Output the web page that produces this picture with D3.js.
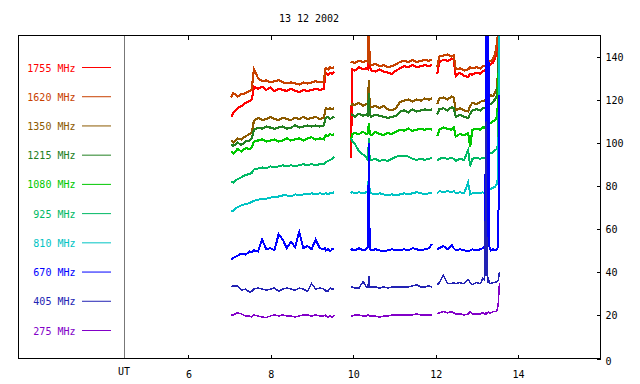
<!DOCTYPE html>
<html>
<head>
<meta charset="utf-8">
<script src="https://cdn.jsdelivr.net/npm/d3@7"></script>
<style>
body { margin: 0; background: #fff; }
svg { display: block; font-family: "DejaVu Sans Mono", monospace; font-size: 10px; }
</style>
</head>
<body>
<svg id="chart" width="640" height="384"></svg>
<script>
var title = "13 12 2002";
var freqLabels = ["1755 MHz", "1620 MHz", "1350 MHz", "1215 MHz", "1080 MHz", "925 MHz", "810 MHz", "670 MHz", "405 MHz", "275 MHz"];
var hourTicks = [6, 8, 10, 12, 14];
var fluxTicks = [0, 20, 40, 60, 80, 100, 120, 140];
var utHour = 4.45;

// UT hours of the three observing runs
var t1 = [7.05, 7.1, 7.2, 7.3, 7.4, 7.5, 7.55, 7.6, 7.7, 7.8, 7.9, 8.0, 8.1, 8.2, 8.3, 8.4, 8.5, 8.6, 8.7, 8.8, 8.9, 9.0, 9.1, 9.2, 9.3, 9.33, 9.35, 9.4, 9.45, 9.5, 9.55];
var t2 = [9.96, 9.98, 10.05, 10.15, 10.25, 10.33, 10.37, 10.39, 10.41, 10.45, 10.55, 10.65, 10.75, 10.85, 10.95, 11.05, 11.15, 11.25, 11.35, 11.45, 11.55, 11.65, 11.75, 11.85, 11.92];
var t3 = [12.05, 12.1, 12.2, 12.3, 12.4, 12.45, 12.5, 12.6, 12.7, 12.8, 12.85, 12.9, 13.0, 13.1, 13.15, 13.2, 13.22, 13.23, 13.24, 13.25, 13.26, 13.27, 13.28, 13.29, 13.31, 13.35, 13.4, 13.45, 13.5, 13.53, 13.56];
var segTimes = [t1, t2, t3];

var flux1755 = [
	[112, 114, 116, 117, 118.5, 119.5, 120, 126, 125, 126, 124.5, 125.5, 124, 125, 124.5, 124, 125, 124, 123.5, 124.5, 124, 124.5, 125, 124.5, 125, 132, 132.5, 131.5, 132.5, 132, 133],
	[93, 134, 133.5, 135, 134, 134.5, 134, 148, 135, 133.5, 133, 134, 133, 132.5, 132, 133.5, 134.5, 135.5, 135, 136, 135, 135.5, 136, 135.5, 136],
	[132, 137.5, 138.5, 138, 139, 138.5, 131, 132.5, 131, 130.5, 132, 131.5, 132.5, 132, 133, 133.5, 134, 134, 134.5, 134, 134.5, 135, 135, 135.5, 136, 136.5, 137, 139, 143, 147, 160]];
var flux1620 = [
	[121, 123, 121.5, 122.5, 123, 124, 125, 134, 130, 128.5, 129, 128, 128.5, 129, 128, 127.5, 128, 127.5, 127, 128, 127.5, 128, 128.5, 128, 128, 134, 134.5, 134, 135, 134.5, 135],
	[137, 137.5, 137, 138, 137.5, 138, 137.5, 155, 137, 136, 136.5, 135.5, 136, 135, 135.5, 136.5, 137.5, 138, 137.5, 138.5, 137.5, 138, 138.5, 138, 138.5],
	[135, 140, 140.5, 141, 140, 140.5, 134, 134.5, 133.5, 134, 135, 134.5, 135, 134.5, 135.5, 135.5, 136, 136, 136.5, 136, 136.5, 136.5, 137, 137, 137.5, 138, 139, 141, 146, 152, 160]];
var flux1350 = [
	[101, 100, 102, 101.5, 103, 104, 105, 110, 111.5, 110.5, 111, 112, 111, 110.5, 111.5, 111, 110.5, 111.5, 111, 112, 111, 111.5, 112, 111, 111.5, 115, 116, 115.5, 116, 115.5, 116],
	[117, 118, 117.5, 118.5, 117, 118, 117.5, 129, 117, 116.5, 117, 116, 117, 115.5, 115, 116, 119, 119.5, 120, 119, 120, 119.5, 120.5, 120, 120.5],
	[118, 120.5, 121, 120, 121.5, 121, 115, 116, 115, 114.5, 117, 118.5, 118, 119, 119.5, 119.5, 120, 120, 120.5, 120, 120.5, 121, 121, 121.5, 121, 122, 121.5, 123, 125, 135, 160]];
var flux1215 = [
	[99, 98.5, 100, 99, 100.5, 101, 102, 106, 107, 106.5, 107.5, 107, 106.5, 107, 107.5, 106.5, 107, 108, 107, 107.5, 108, 107.5, 108, 107.5, 108, 111, 111.5, 112, 111, 111.5, 112],
	[112.5, 113, 112, 113.5, 112.5, 113, 112.5, 123, 113, 112, 113, 112.5, 112, 111.5, 112, 112.5, 114.5, 115, 114, 115.5, 114.5, 115, 115.5, 115, 115.5],
	[113, 115.5, 116, 115, 116.5, 116, 112, 113, 112, 111.5, 113.5, 115, 115.5, 115, 116, 116, 116.5, 116, 117, 116.5, 117, 117, 117.5, 117.5, 118, 118, 119, 120, 122, 130, 160]];
var flux1080 = [
	[96, 95, 97, 96, 97.5, 97, 98, 100.5, 101, 101.5, 100.5, 101, 101.5, 100.5, 101, 102, 101, 101.5, 102, 101, 102, 102.5, 101.5, 102, 101.5, 103, 103.5, 103, 104, 103.5, 104],
	[101, 104, 104.5, 104, 105, 104, 104.5, 109, 104.5, 103.5, 105, 104, 103.5, 104.5, 104, 105, 106, 105.5, 106.5, 105.5, 106, 106.5, 106, 106.5, 106],
	[103, 106, 107, 106.5, 106, 107, 103, 104, 103.5, 104.5, 98, 106, 106.5, 106, 107, 107, 107, 107.5, 107.5, 108, 108, 108, 108.5, 108.5, 109, 109, 110, 110.5, 112, 120, 160]];
var flux925 = [
	[82, 81.5, 83, 84, 85, 85.5, 86, 87.5, 88, 88.5, 88, 89, 88.5, 89, 89.5, 89, 89.5, 89, 89.5, 90, 89.5, 90, 89.5, 90, 90, 90.5, 91, 91.5, 92, 92.5, 93.5],
	[102, 101, 99.5, 96, 94.5, 93, 92, 102, 92.5, 92, 92.5, 91.5, 92, 91.5, 92.5, 93.5, 94, 94, 93.5, 92.5, 92, 92.5, 92, 92.5, 93],
	[91.5, 92.5, 93, 92.5, 93, 92.5, 91.5, 92.5, 92, 96.5, 89, 92.5, 93, 92.5, 93, 93, 93, 93.5, 93.5, 94, 94, 94, 94.5, 94.5, 95, 95, 95.5, 96.5, 97, 100, 160]];
var flux810 = [
	[68, 68.5, 70, 71, 71.5, 72, 72.5, 73, 73.5, 74, 74, 74.5, 75, 75, 75.5, 75.5, 75, 76, 75.5, 76, 76, 76.5, 76, 76.5, 76, 76.5, 76.5, 76, 76.5, 76.5, 77],
	[76.5, 77, 76.5, 77, 76.5, 77, 76.5, 86, 77.5, 76.5, 76, 76.5, 76, 75.5, 76, 75.5, 76, 76.5, 76, 76.5, 77, 76.5, 76, 76.5, 76.5],
	[76.5, 77.5, 77, 77.5, 77, 77.5, 76.5, 77, 76.5, 81.5, 76, 76.5, 76.5, 76.5, 77, 76.5, 77, 77, 77, 77.5, 77.5, 78, 78, 78, 78.5, 78.5, 79, 79.5, 81, 85, 160]];
var flux670 = [
	[45.5, 46.5, 47.5, 48.5, 48, 49.5, 49, 50, 49.5, 55, 50.5, 51, 50, 57.5, 55, 51, 54, 51.5, 58.5, 51, 52, 50.5, 55, 51, 50.5, 51, 50, 50.5, 49.5, 50.5, 50.5],
	[50, 50.5, 50, 51, 50, 50.5, 51.5, 100, 50.5, 50, 50.5, 50, 49.5, 50, 50.5, 50, 50, 50.5, 50, 51, 50.5, 50, 50.5, 51, 53],
	[50.5, 51, 52, 50.5, 52.5, 51, 50, 50.5, 50, 49.5, 50, 50.5, 50, 50.5, 51, 52, 72, 160, 60, 160, 55, 160, 90, 160, 52, 50, 50.5, 50, 50.5, 52, 122]];
var flux405 = [
	[33, 33.5, 33.5, 31.5, 32, 30.5, 31, 32, 32.5, 32, 31.5, 32, 32.5, 31, 32, 32.5, 32, 31.5, 32.5, 32, 31, 34.5, 32, 32.5, 32, 31.5, 31, 31, 32.5, 32, 32],
	[32.5, 33, 32.5, 32.5, 35.5, 33, 33, 38, 33, 33, 33, 32.5, 33, 32.5, 33, 33, 33, 33, 33, 33.5, 34, 33, 33, 33.5, 33],
	[34, 35, 38.5, 34.5, 34.5, 35, 34.5, 35, 34.5, 36.5, 35, 34, 35, 34.5, 37, 36, 72, 38, 110, 40, 56, 36, 35, 37.5, 35, 34.5, 35, 35, 35.5, 36, 40]];
var flux275 = [
	[20, 20, 21, 20.5, 19.5, 19.5, 19, 20, 19.5, 19, 18.8, 19.5, 20, 19.5, 20, 19.5, 19.5, 19, 19.5, 20, 20, 19.5, 20, 19.5, 19.5, 20, 19.5, 19, 19.5, 19, 20],
	[20, 19.5, 20, 20, 19.5, 19.5, 20, 20, 19.5, 19.5, 19.5, 19, 19.5, 19.5, 20, 20, 20, 20, 20, 20, 20.5, 20, 20, 20, 20],
	[20.5, 21, 21.5, 21, 21.5, 21, 20.5, 20.5, 20, 20.5, 21.5, 20.5, 20.5, 20.5, 21, 20.5, 20.5, 21, 20.5, 21, 21, 21, 21, 21.5, 21, 21, 21.5, 21.5, 22, 25, 35]];

var series = [flux1755, flux1620, flux1350, flux1215, flux1080, flux925, flux810, flux670, flux405, flux275];
var colors = ["#ff0000", "#c84100", "#8c5a00", "#228022", "#00c800", "#00b964", "#00c3c3", "#0000ff", "#2323b4", "#8200c8"];
// noisy high channels look thicker than the quiet low ones
var widths = [2.2, 2.2, 2.2, 2.2, 2.2, 2, 2, 2, 1.5, 1.5];

var frame = {left: 18, right: 600, top: 35, bottom: 358};

var svg = d3.select("#chart");

var x = d3.scaleLinear().domain([1.875, 16]).range([frame.left, frame.right]);
var y = d3.scaleLinear().domain([0, 150]).range([frame.bottom, frame.top]);

svg.append("defs").append("clipPath")
	.attr("id", "plotclip")
	.append("rect")
	.attr("x", frame.left)
	.attr("y", frame.top)
	.attr("width", frame.right - frame.left)
	.attr("height", frame.bottom - frame.top);

// title
svg.append("text")
	.attr("x", (frame.left + frame.right) / 2)
	.attr("y", 22)
	.attr("text-anchor", "middle")
	.text(title);

// UT separator
svg.append("line")
	.attr("x1", Math.round(x(utHour)) + 0.5)
	.attr("x2", Math.round(x(utHour)) + 0.5)
	.attr("y1", frame.top)
	.attr("y2", frame.bottom)
	.attr("stroke", "#777")
	.attr("stroke-width", 1);

svg.append("text")
	.attr("x", x(utHour))
	.attr("y", 375)
	.attr("text-anchor", "middle")
	.text("UT");

// data
var line = d3.line()
	.x(function(d) { return x(d[0]); })
	.y(function(d) { return y(d[1]); });

var plot = svg.append("g").attr("clip-path", "url(#plotclip)");

series.forEach(function(s, k) {
	s.forEach(function(vals, j) {
		var pts = segTimes[j].map(function(t, i) { return [t, vals[i]]; });
		plot.append("path")
			.datum(pts)
			.attr("d", line)
			.attr("fill", "none")
			.attr("stroke", colors[k])
			.attr("stroke-width", widths[k])
			.attr("stroke-linejoin", "miter")
			.attr("shape-rendering", "crispEdges");
	});
});

// legend
var ly = d3.scalePoint().domain(freqLabels).range([67.5, 330.5]);

var leg = svg.append("g").selectAll("g")
		.data(freqLabels)
	.enter().append("g")
		.attr("transform", function(d) { return "translate(0," + ly(d) + ")"; });

leg.append("text")
	.attr("x", 75.5)
	.attr("y", 4)
	.attr("text-anchor", "end")
	.attr("fill", function(d, i) { return colors[i]; })
	.text(function(d) { return d; });

leg.append("line")
	.attr("x1", 82)
	.attr("x2", 111)
	.attr("y1", 0)
	.attr("y2", 0)
	.attr("stroke", function(d, i) { return colors[i]; })
	.attr("stroke-width", 1);

// frame
svg.append("rect")
	.attr("x", frame.left + 0.5)
	.attr("y", frame.top + 0.5)
	.attr("width", frame.right - frame.left)
	.attr("height", frame.bottom - frame.top)
	.attr("fill", "none")
	.attr("stroke", "#000")
	.attr("stroke-width", 1);

// axes
var styleAxis = function(g) {
	g.select(".domain").remove();
	g.selectAll("line").attr("stroke", "#000").attr("shape-rendering", "crispEdges");
	g.selectAll("text").attr("fill", "#000")
		.style("font-family", "'DejaVu Sans Mono', monospace").style("font-size", "10px");
};

svg.append("g")
	.attr("transform", "translate(0.5," + (frame.bottom + 0.5) + ")")
	.call(d3.axisBottom(x).tickValues(hourTicks).tickSize(-4).tickPadding(12))
	.call(styleAxis);

svg.append("g")
	.attr("transform", "translate(0.5," + (frame.top + 0.5) + ")")
	.call(d3.axisTop(x).tickValues(hourTicks).tickSize(-4).tickFormat(""))
	.call(styleAxis);

svg.append("g")
	.attr("transform", "translate(" + (frame.right + 0.5) + ",0.5)")
	.call(d3.axisRight(y).tickValues(fluxTicks).tickSize(-4).tickPadding(5))
	.call(styleAxis)
	.selectAll("text").filter(function(d) { return d === 0; }).attr("dy", "0.62em");
</script>
</body>
</html>
